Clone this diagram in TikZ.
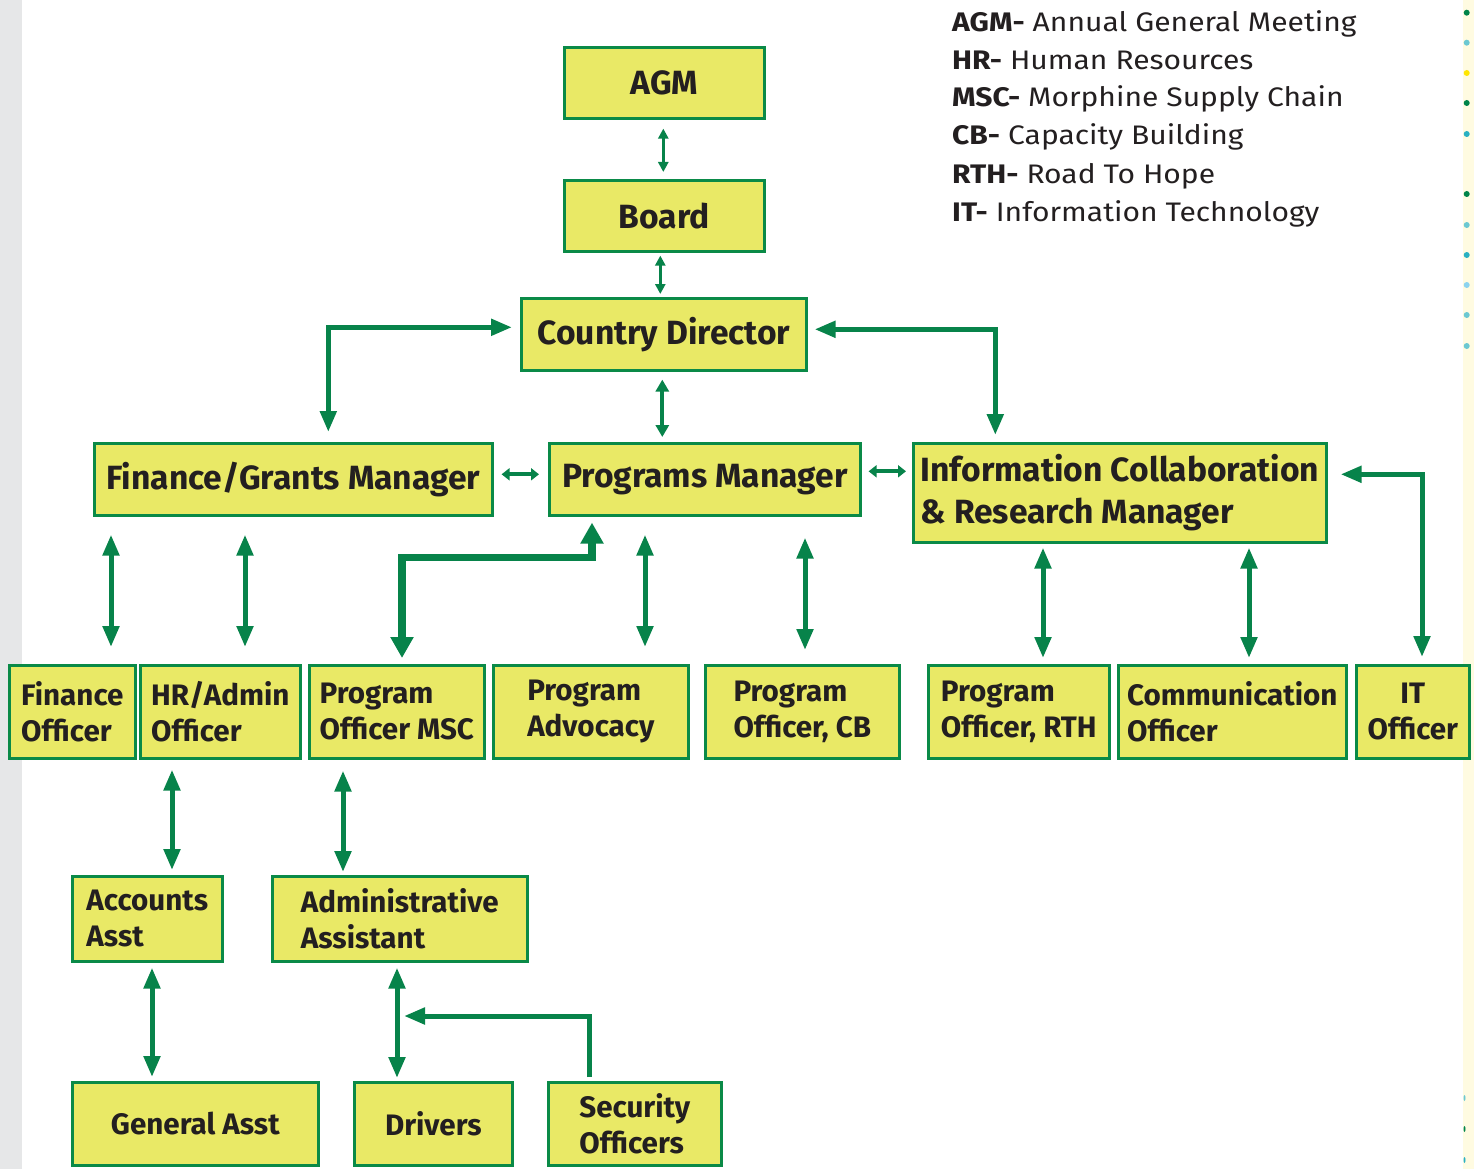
\documentclass[tikz,border=0pt]{standalone}
\usepackage{fontspec}
\setmainfont{Fira Sans}
\newfontfamily\legendfont[FakeStretch=1.12]{Fira Sans}
\usetikzlibrary{arrows.meta,calc}
\definecolor{byellow}{HTML}{E9E966}
\definecolor{bgreen}{HTML}{0A8A47}
\definecolor{agreen}{HTML}{07834A}
\definecolor{tdark}{HTML}{231F20}
\definecolor{sidegray}{HTML}{E6E7E8}
\definecolor{sideyellow}{HTML}{FFFBE1}
\definecolor{dgreen}{HTML}{00844A}
\definecolor{dcyan}{HTML}{6CC8D2}
\definecolor{dyellow}{HTML}{FFE600}
\definecolor{dteal}{HTML}{2AB0C2}
\definecolor{dblue}{HTML}{8CD3EF}
\tikzset{
  box/.style={draw=bgreen, fill=byellow, line width=2.6pt, text=tdark, anchor=north west,
    align=left, inner sep=0pt, font=\bfseries\fontsize{29.6}{36}\selectfont},
  big/.style={font=\bfseries\fontsize{33.6}{42}\selectfont},
  legend/.style={anchor=base west, inner sep=0pt, text=tdark, font=\legendfont\fontsize{26.8}{30}\selectfont},
  darr/.style={draw=agreen, line width=5pt, {Triangle[length=21pt,width=16pt]}-{Triangle[length=21pt,width=16pt]}},
  sarr/.style={draw=agreen, line width=5pt, -{Triangle[length=21pt,width=16pt]}},
  fatarr/.style={draw=agreen, line width=7.5pt, {Triangle[length=21pt,width=22pt]}-{Triangle[length=21pt,width=22pt]}},
  thinarr/.style={draw=agreen, line width=3pt, {Triangle[length=10pt,width=10pt]}-{Triangle[length=10pt,width=10pt]}},
  midarr/.style={draw=agreen, line width=4pt, {Triangle[length=12pt,width=13pt]}-{Triangle[length=12pt,width=13pt]}},
  shortarr/.style={draw=agreen, line width=4pt, {Triangle[length=8pt,width=12pt]}-{Triangle[length=8pt,width=12pt]}}
}
\begin{document}
\begin{tikzpicture}[x=1pt,y=-1pt]
\useasboundingbox (0,0) rectangle (1474,1169);
\clip (0,0) rectangle (1474,1169);
% side strips
\fill[sidegray] (0,0) rectangle (22,1169);
\fill[sideyellow] (1463,0) rectangle (1474,1169);
\foreach \yy/\cc in {12.7/dgreen,42.7/dcyan,73/dyellow,103/dgreen,134/dteal,194/dgreen,225/dcyan,255/dteal,285/dblue,315/dcyan,346/dcyan}
  \fill[\cc] (1466.7,\yy) circle[radius=3pt];
\foreach \yy/\cc in {1098/dcyan,1129/dgreen,1160/dteal}
  \fill[\cc] (1464.5,\yy) ellipse[x radius=1pt, y radius=3pt];

% legend
\node[legend] (l1) at (952,32) {\textbf{AGM-} Annual General Meeting};
\node[legend] (l2) at (952,70) {\textbf{HR-} Human Resources};
\node[legend] (l3) at (952,107) {\textbf{MSC-} Morphine Supply Chain};
\node[legend] (l4) at (952,145) {\textbf{CB-} Capacity Building};
\node[legend] (l5) at (952,183) {\textbf{RTH-} Road To Hope};
\node[legend] (l6) at (952,221) {\textbf{IT-} Information Technology};

% boxes
\node[box, big, minimum width=200pt, minimum height=71pt] (agm) at (563,46) {AGM};
\node[box, big, minimum width=200pt, minimum height=71pt] (board) at (563,179) {Board};
\node[box, big, minimum width=285pt, minimum height=72pt] (cd) at (520,297) {Country Director};
\node[box, big, minimum width=398pt, minimum height=72pt] (fgm) at (93,442) {Finance/Grants Manager};
\node[box, big, minimum width=311pt, minimum height=72pt] (pm) at (548,442) {Programs Manager};
\node[box, big, minimum width=413pt, minimum height=99pt] (icr) at (912,442) {Information Collaboration\\\& Research Manager};

\node[box, minimum width=126pt, minimum height=93pt] (fo) at (8,664) {Finance\\Officer};
\node[box, minimum width=160pt, minimum height=93pt] (hr) at (139,664) {HR/Admin\\Officer};
\node[box, minimum width=175pt, minimum height=93pt] (msc) at (308,664) {Program\\Officer MSC};
\node[box, minimum width=195pt, minimum height=93pt] (adv) at (492,664) {Program\\Advocacy};
\node[box, minimum width=194pt, minimum height=93pt] (cb) at (704,664) {Program\\Officer, CB};
\node[box, minimum width=181pt, minimum height=93pt] (rth) at (927,664) {Program\\Officer, RTH};
\node[box, minimum width=228pt, minimum height=93pt] (com) at (1117,664) {Communication\\Officer};
\node[box, minimum width=113pt, minimum height=93pt, align=center] (it) at (1355,664) {IT\\Officer};

\node[box, minimum width=150pt, minimum height=85pt] (acc) at (71,875) {Accounts\\Asst};
\node[box, minimum width=255pt, minimum height=85pt] (aa) at (271,875) {Administrative\\Assistant};

\node[box, minimum width=246pt, minimum height=83pt] (ga) at (71,1081) {General Asst};
\node[box, minimum width=158pt, minimum height=83pt] (dr) at (353,1081) {Drivers};
\node[box, minimum width=173pt, minimum height=83pt] (so) at (547,1081) {Security\\Officers};

% connectors
\draw[thinarr] ($(agm.south)+(-1,9)$) -- ($(board.north)+(-1,-7)$);
\draw[thinarr] ($(board.south)+(-4,3)$) -- ($(cd.north)+(-3.5,-3)$);
\draw[midarr] ($(cd.south)+(-1.5,8)$) -- ($(pm.north)+(-42.5,-5)$);
\draw[darr] ($(cd.west)+(-8,-7)$) -| ($(fgm.north)+(35,-10)$);
\draw[darr] ($(cd.east)+(7,-5)$) -| ($(icr.north)+(-124.5,-7)$);
\draw[shortarr] ($(fgm.east)+(8,-5)$) -- ($(pm.west)+(-9,-5)$);
\draw[shortarr] ($(pm.east)+(7,-8)$) -- ($(pm.east -| icr.west)+(-6,-8)$);

\draw[darr] ($(fgm.south west)+(18,18)$) -- ($(fo.north west)+(103,-17)$);
\draw[darr] ($(fgm.south west)+(152,18)$) -- ($(hr.north west)+(106,-17)$);
\draw[fatarr] ($(pm.south west)+(44,6)$) -- ++(0,35) -| ($(msc.north west)+(94,-6)$);
\draw[darr] ($(pm.south west)+(97,18)$) -- ($(adv.north west)+(153,-17)$);
\draw[darr] ($(pm.south west)+(257,21)$) -- ($(cb.north west)+(101,-14)$);
\draw[darr] ($(icr.south west)+(131,4)$) -- ($(rth.north west)+(116,-6)$);
\draw[darr] ($(icr.south west)+(337,4)$) -- ($(com.north west)+(132,-6)$);
\draw[darr] ($(icr.east)+(13,-18.5)$) -| ($(it.north west)+(67,-7)$);

\draw[darr] ($(hr.south west)+(33,10)$) -- ($(acc.north west)+(101,-5)$);
\draw[darr] ($(msc.south west)+(35,11)$) -- ($(aa.north west)+(72,-3)$);
\draw[darr] ($(acc.south west)+(81,5)$) -- ($(ga.north west)+(81,-4)$);
\draw[darr] ($(aa.south west)+(126,5)$) -- ($(dr.north west)+(44,-3)$);
\coordinate (drjoin) at ($(dr.north west)+(51,-65)$);
\draw[sarr] ($(so.north west)+(42,-4)$) |- (drjoin);
\end{tikzpicture}
\end{document}
